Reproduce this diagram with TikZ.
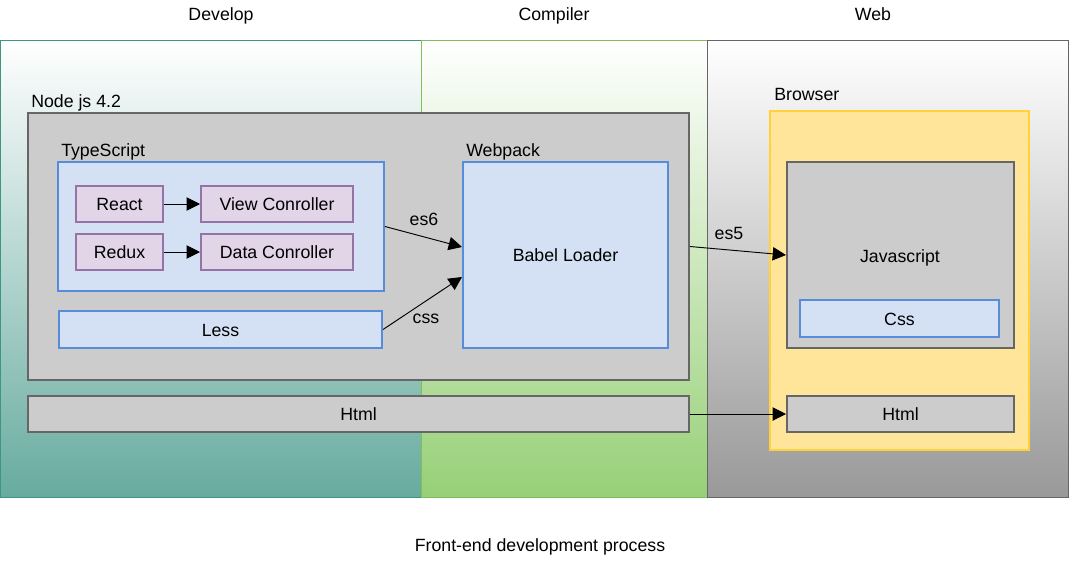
\documentclass[tikz,border=0pt]{standalone}
\usepackage{fontspec}
\setmainfont{Liberation Sans}
\usetikzlibrary{arrows.meta, fit, calc}

\definecolor{devline}{RGB}{60,150,130}
\definecolor{devfill}{RGB}{103,171,159}
\definecolor{compline}{RGB}{130,190,90}
\definecolor{compfill}{RGB}{151,208,119}
\definecolor{webline}{RGB}{102,102,102}
\definecolor{webfill}{RGB}{153,153,153}
\definecolor{grayfill}{RGB}{204,204,204}
\definecolor{grayline}{RGB}{102,102,102}
\definecolor{bluefill}{RGB}{212,225,245}
\definecolor{blueline}{RGB}{88,140,218}
\definecolor{purplefill}{RGB}{225,213,231}
\definecolor{purpleline}{RGB}{150,115,166}
\definecolor{yellowfill}{RGB}{255,229,153}
\definecolor{yellowline}{RGB}{255,210,60}

\tikzset{
  txt/.style={text height=11pt, text depth=1.2pt, inner sep=0pt},
  box/.style={draw, line width=0.75pt, inner sep=0pt, fit={#1}},
  graybox/.style={box={#1}, fill=grayfill, draw=grayline, line width=1.5pt},
  bluebox/.style={box={#1}, fill=bluefill, draw=blueline, line width=1.5pt},
  purplebox/.style={box={#1}, fill=purplefill, draw=purpleline, line width=1.5pt},
  title/.style={txt, anchor=west},
  flow/.style={-{Triangle[length=10pt, width=10pt]}, line width=0.7pt}
}

\begin{document}
\begin{tikzpicture}[x=0.75pt, y=-0.75pt, font=\fontsize{13.3}{16}\selectfont,
    every label/.style={txt}]
  \useasboundingbox (0,0) rectangle (1069,572);

  % Lanes
  \fill[top color=white, bottom color=devfill] (0,40) rectangle (421,497);
  \draw[devline, line width=0.75pt] (0,40) rectangle (421,497);
  \fill[top color=white, bottom color=compfill] (421,40) rectangle (707,497);
  \draw[compline, line width=0.75pt] (421,40) rectangle (707,497);
  \fill[top color=white, bottom color=webfill] (707,40) rectangle (1068,497);
  \draw[webline, line width=0.75pt] (707,40) rectangle (1068,497);
  \node[txt] (develop) at (221,14) {Develop};
  \node[txt] (compiler) at (554,14) {Compiler};
  \node[txt] (web) at (873,14) {Web};

  % Node js
  \node[title] (nodetitle) at (31,101) {Node js 4.2};
  \node[graybox={(28,113) (689,380)}] (nodejs) {};

  % TypeScript
  \node[title] (tstitle) at (61,150) {TypeScript};
  \node[bluebox={(58,162) (384,291)}] (ts) {};
  \node[purplebox={(76,186) (163,222)}, label=center:React] (react) {};
  \node[purplebox={(201,186) (353,222)}, label=center:View Conroller] (view) {};
  \node[purplebox={(76,234) (163,270)}, label=center:Redux] (redux) {};
  \node[purplebox={(201,234) (353,270)}, label=center:Data Conroller] (data) {};
  \draw[flow] (react) -- (view);
  \draw[flow] (redux) -- (data);

  % Less
  \node[bluebox={(59,311) (382,348)}, label=center:Less] (less) {};

  % Webpack
  \node[title] (wptitle) at (466,150) {Webpack};
  \node[bluebox={(463,162) (668,348)}, label=center:Babel Loader] (babel) {};
  \draw[flow] (ts.east) -- ($(babel.west)+(0,-8)$);
  \draw[flow] (less.east) -- ($(babel.west)+(0,22)$);
  \node[txt] (es6) at (424,219) {es6};
  \node[txt] (css) at (426,317) {css};

  % Browser
  \node[title] (brtitle) at (774,94) {Browser};
  \node[box={(770,111) (1029,450)}, fill=yellowfill, draw=yellowline, line width=1.5pt] (browser) {};
  \node[graybox={(787,162) (1014,348)}] (js) {};
  \node[txt] (jstext) at (900,256) {Javascript};
  \node[bluebox={(800,300) (999,337)}, label=center:Css] (cssbox) {};
  \draw[flow] (nodejs.east) -- (js.west);
  \node[txt] (es5) at (729,233) {es5};

  % Html
  \node[graybox={(28,396) (689,432)}, label=center:Html] (htmlsrc) {};
  \node[graybox={(787,396) (1014,432)}, label=center:Html] (htmlout) {};
  \draw[flow] (htmlsrc) -- (htmlout);

  \node[txt] (caption) at (540,545) {Front-end development process};
\end{tikzpicture}
\end{document}
